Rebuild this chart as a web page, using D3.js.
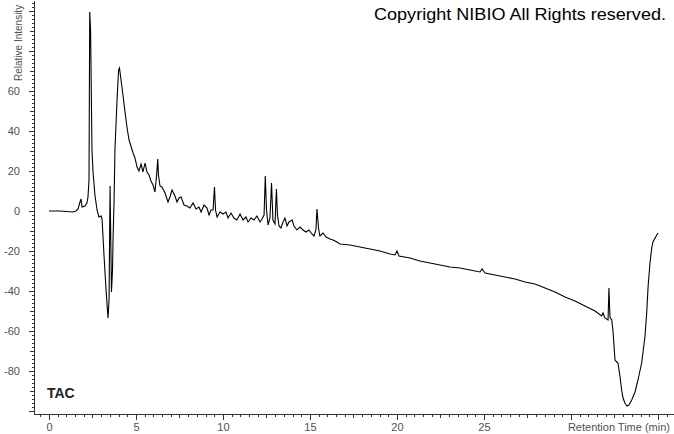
<!DOCTYPE html>
<html><head><meta charset="utf-8">
<script src="https://cdn.jsdelivr.net/npm/d3@7"></script>
<style>html,body{margin:0;padding:0;background:#fff;}svg{display:block;}</style>
</head><body>
<svg id="c" width="674" height="434"></svg>
<script>
// Retention time (min) and relative intensity
const times = [0,0.63,1.38,1.55,1.67,1.78,1.84,1.90,2.07,2.18,2.24,2.30,2.34,2.39,2.41,2.47,2.53,2.64,2.76,2.87,2.99,3.05,3.16,3.28,3.39,3.45,3.51,3.59,3.65,3.68,3.74,3.79,3.91,4.00,4.05,4.08,4.14,4.25,4.37,4.48,4.60,4.71,4.83,4.94,5.06,5.17,5.29,5.40,5.52,5.63,5.75,5.86,5.98,6.09,6.18,6.25,6.29,6.38,6.49,6.67,6.84,6.95,7.07,7.24,7.36,7.47,7.59,7.76,7.93,8.10,8.28,8.45,8.62,8.74,8.91,9.08,9.20,9.31,9.43,9.51,9.57,9.66,9.83,10.00,10.17,10.29,10.46,10.63,10.80,10.98,11.15,11.32,11.44,11.61,11.78,11.95,12.13,12.24,12.36,12.43,12.50,12.59,12.70,12.79,12.87,12.99,13.07,13.13,13.22,13.33,13.45,13.56,13.68,13.79,13.97,14.08,14.25,14.43,14.60,14.77,14.94,15.11,15.23,15.34,15.40,15.49,15.57,15.75,15.92,16.15,16.32,16.55,16.72,17.30,17.87,18.45,19.02,19.60,19.89,20.00,20.11,20.75,21.32,21.90,22.47,23.05,23.62,24.20,24.77,24.89,25.06,25.63,26.21,26.78,27.36,27.93,28.51,29.08,29.66,30.23,30.80,31.38,31.76,31.84,31.95,32.13,32.18,32.24,32.34,32.41,32.53,32.63,32.70,32.82,32.91,32.99,33.10,33.22,33.33,33.49,33.68,33.85,34.06,34.25,34.35,34.43,34.54,34.64,34.71,34.93,35.00];
const intensity = [0,0,-0.5,0,1,4.5,6,2,2.5,4,7,15.5,99.5,90.5,75.5,30.5,19.5,8,0.5,-3,-2.5,-4,-22,-39.5,-53.5,-44.5,12.5,-40.5,-29.5,-14.5,5.5,30.5,55.5,70.5,71.5,69.5,65.5,58,49.5,42,35.5,32.5,29,26.5,22,20,23.5,19.5,24,19.5,18,15,13,9.5,17.5,26,18,12.5,12,9,4.5,7,10.5,7.5,4.5,6.5,7,3,2.5,1.5,4,1,2,-0.5,3,1.5,-2,0.5,0.5,12,0.5,-3,-0.5,-1.5,-0.5,-3.5,-1,-3.5,-4.5,-1.5,-4.5,-3,-5.5,-3.5,-4.5,-2.5,-5.5,-4,-2,17.5,0.5,-7,-3.5,14,-4.5,-6.5,11,-2,-7.5,-8.5,-5.5,-3.5,-7.5,-5.5,-4.5,-7.5,-9.5,-8,-9.5,-10.5,-9.5,-11.5,-12.5,-9.5,1,-8.5,-12.5,-11,-13,-14,-14.5,-15.5,-16.5,-17,-18,-19,-20,-21.5,-22,-20,-22.5,-23.5,-25,-26,-27,-28,-28.5,-29.5,-30.5,-29,-31,-32,-33,-34,-35.5,-36.5,-38.5,-40.5,-43,-45,-47.5,-50,-52.5,-51,-53.5,-54.5,-38.5,-53,-54.5,-59.5,-74.5,-75.5,-76,-83,-89.5,-93.5,-96,-97.5,-97,-94.5,-90.5,-84.5,-76,-63,-51,-38,-26,-18.5,-15.5,-12,-11];
const yTickLabels = [-80,-60,-40,-20,0,20,40,60];
const xTickLabels = [0,5,10,15,20,25];
const sampleLabel = "TAC";
const copyright = "Copyright NIBIO All Rights reserved.";
const xTitle = "Retention Time (min)";
const yTitle = "Relative Intensity";

const svg = d3.select("#c");
const x = d3.scaleLinear().domain([-0.862, 35.92]).range([34, 674]);
const y = d3.scaleLinear().domain([-101.5, 105.5]).range([414, 0]);
const font = "'Liberation Sans', Arial, sans-serif";
const grey = "#505050";

// Y axis
const yMinor = d3.range(-100, 106, 2);
const yMid = d3.range(-100, 106, 10).filter(v => v % 20 !== 0);
const yMajor = d3.range(-100, 106, 20);
function styleAxis(g){ g.selectAll("path,line").attr("stroke", "#333").attr("shape-rendering","crispEdges"); g.selectAll("text").attr("fill", grey).style("font-family", font).style("font-size","11px"); }
svg.append("g").attr("transform","translate(34,0)")
  .call(d3.axisLeft(y).tickValues(yMinor).tickSize(2).tickSizeOuter(0).tickFormat(""))
  .call(styleAxis);
svg.append("g").attr("transform","translate(34,0)")
  .call(d3.axisLeft(y).tickValues(yMid).tickSize(4).tickFormat("")).call(g=>g.select(".domain").remove())
  .call(styleAxis);
svg.append("g").attr("transform","translate(34,0)")
  .call(d3.axisLeft(y).tickValues(yMajor).tickSize(5).tickPadding(9).tickFormat(d => yTickLabels.includes(d) ? d : ""))
  .call(g=>g.select(".domain").remove())
  .call(styleAxis);

// X axis
const xMinor = d3.range(-0.5, 36, 0.5);
const xMid = d3.range(2.5, 36, 5);
const xMajor = d3.range(0, 36, 5);
svg.append("g").attr("transform","translate(0,414)")
  .call(d3.axisBottom(x).tickValues(xMinor).tickSize(3).tickSizeOuter(0).tickFormat(""))
  .call(styleAxis);
svg.append("g").attr("transform","translate(0,414)")
  .call(d3.axisBottom(x).tickValues(xMid).tickSize(4).tickFormat("")).call(g=>g.select(".domain").remove())
  .call(styleAxis);
svg.append("g").attr("transform","translate(0,414)")
  .call(d3.axisBottom(x).tickValues(xMajor).tickSize(6).tickPadding(3).tickFormat(d => xTickLabels.includes(d) ? d : ""))
  .call(g=>g.select(".domain").remove())
  .call(styleAxis);

// Titles
svg.append("text").attr("x", 670).attr("y", 431).attr("text-anchor","end")
  .attr("fill", grey).style("font-family", font).style("font-size","11px").text(xTitle);
svg.append("text").attr("transform","translate(22,81) rotate(-90)").attr("text-anchor","start")
  .attr("fill", grey).style("font-family", font).style("font-size","10px").text(yTitle);
svg.append("text").attr("x", 666).attr("y", 20).attr("text-anchor","end")
  .attr("textLength", 292).attr("lengthAdjust","spacingAndGlyphs")
  .attr("fill", "#000").style("font-family", font).style("font-size","17px").text(copyright);
svg.append("text").attr("x", 47).attr("y", 398)
  .attr("fill", "#222").style("font-family", font).style("font-size","14px").style("font-weight","bold").text(sampleLabel);

// Trace
const pts = times.map((t, i) => [t, intensity[i]]);
svg.append("path").datum(pts)
  .attr("fill","none").attr("stroke","#000").attr("stroke-width",1.1)
  .attr("d", d3.line().x(d => x(d[0])).y(d => y(d[1])));
</script>
</body></html>
